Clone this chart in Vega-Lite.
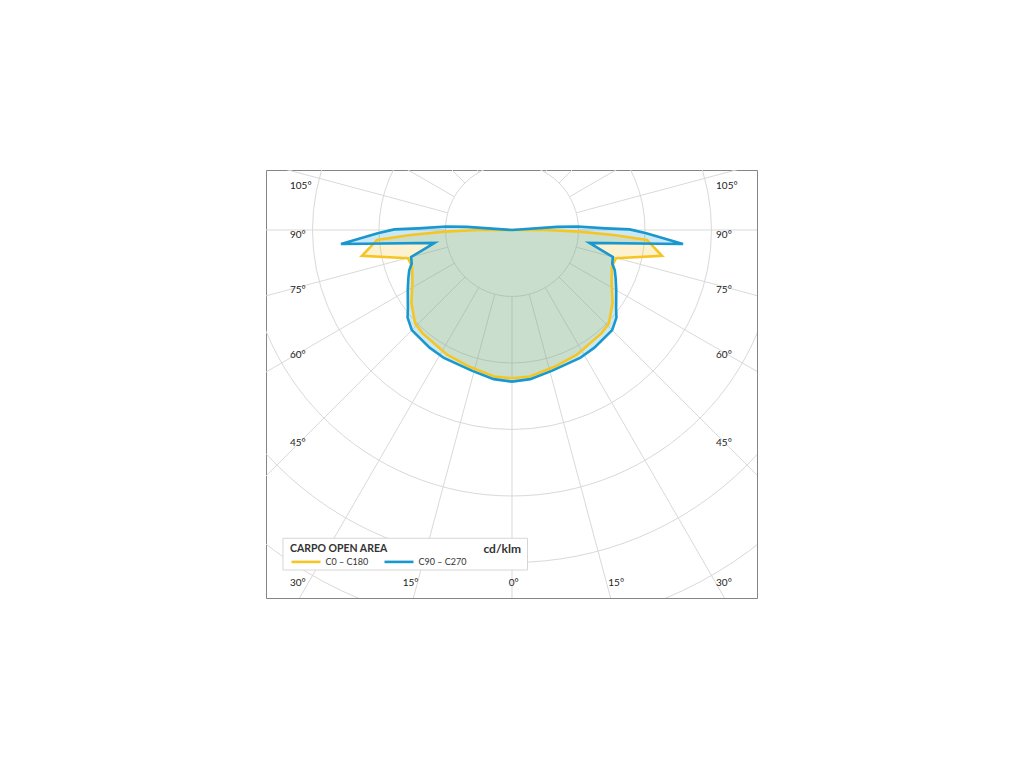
{
  "$schema": "https://vega.github.io/schema/vega-lite/v6.json",
  "width": 491,
  "height": 428,
  "autosize": {"type": "none"},
  "padding": {"left": 266, "top": 170, "right": 20, "bottom": 20},
  "background": "white",
  "config": {"view": {"stroke": "#858585", "strokeWidth": 1}, "font": "Lato"},
  "datasets": {
    "rings": [{"r": 100}, {"r": 200}, {"r": 300}, {"r": 400}, {"r": 500}, {"r": 600}, {"r": 700}],
    "spokes": [{"a": 0}, {"a": 15}, {"a": 30}, {"a": 45}, {"a": 60}, {"a": 75}, {"a": 90}, {"a": 105}, {"a": 120}, {"a": 135}, {"a": 150}, {"a": 165}, {"a": 180}, {"a": 195}, {"a": 210}, {"a": 225}, {"a": 240}, {"a": 255}, {"a": 270}, {"a": 285}, {"a": 300}, {"a": 315}, {"a": 330}, {"a": 345}],
    "curves": [
      {"s": "C0 – C180", "i": 0, "g": -180, "r": 0},
      {"s": "C0 – C180", "i": 1, "g": -90, "r": 50},
      {"s": "C0 – C180", "i": 2, "g": -88.6, "r": 101},
      {"s": "C0 – C180", "i": 3, "g": -87.2, "r": 153},
      {"s": "C0 – C180", "i": 4, "g": -85.8, "r": 203.5},
      {"s": "C0 – C180", "i": 5, "g": -80.2, "r": 229},
      {"s": "C0 – C180", "i": 6, "g": -74.8, "r": 162},
      {"s": "C0 – C180", "i": 7, "g": -70, "r": 160},
      {"s": "C0 – C180", "i": 8, "g": -63, "r": 168},
      {"s": "C0 – C180", "i": 9, "g": -54, "r": 187},
      {"s": "C0 – C180", "i": 10, "g": -46, "r": 202.5},
      {"s": "C0 – C180", "i": 11, "g": -41, "r": 205.5},
      {"s": "C0 – C180", "i": 12, "g": -27.5, "r": 211.5},
      {"s": "C0 – C180", "i": 13, "g": -17, "r": 215.5},
      {"s": "C0 – C180", "i": 14, "g": -7, "r": 222},
      {"s": "C0 – C180", "i": 15, "g": 0, "r": 223},
      {"s": "C0 – C180", "i": 16, "g": 7, "r": 222},
      {"s": "C0 – C180", "i": 17, "g": 17, "r": 215.5},
      {"s": "C0 – C180", "i": 18, "g": 27.5, "r": 211.5},
      {"s": "C0 – C180", "i": 19, "g": 41, "r": 205.5},
      {"s": "C0 – C180", "i": 20, "g": 46, "r": 202.5},
      {"s": "C0 – C180", "i": 21, "g": 54, "r": 187},
      {"s": "C0 – C180", "i": 22, "g": 63, "r": 168},
      {"s": "C0 – C180", "i": 23, "g": 70, "r": 160},
      {"s": "C0 – C180", "i": 24, "g": 74.8, "r": 162},
      {"s": "C0 – C180", "i": 25, "g": 80.2, "r": 229},
      {"s": "C0 – C180", "i": 26, "g": 85.8, "r": 203.5},
      {"s": "C0 – C180", "i": 27, "g": 87.2, "r": 153},
      {"s": "C0 – C180", "i": 28, "g": 88.6, "r": 101},
      {"s": "C0 – C180", "i": 29, "g": 90, "r": 50},
      {"s": "C0 – C180", "i": 30, "g": 180, "r": 0},
      {"s": "C90 – C270", "i": 0, "g": -180, "r": 0},
      {"s": "C90 – C270", "i": 1, "g": -94, "r": 68},
      {"s": "C90 – C270", "i": 2, "g": -93, "r": 99},
      {"s": "C90 – C270", "i": 3, "g": -91, "r": 141},
      {"s": "C90 – C270", "i": 4, "g": -90.3, "r": 177},
      {"s": "C90 – C270", "i": 5, "g": -88.6, "r": 202},
      {"s": "C90 – C270", "i": 6, "g": -85.3, "r": 258},
      {"s": "C90 – C270", "i": 7, "g": -80.5, "r": 118},
      {"s": "C90 – C270", "i": 8, "g": -75, "r": 157},
      {"s": "C90 – C270", "i": 9, "g": -71.5, "r": 159},
      {"s": "C90 – C270", "i": 10, "g": -68.6, "r": 166},
      {"s": "C90 – C270", "i": 11, "g": -65, "r": 172},
      {"s": "C90 – C270", "i": 12, "g": -60, "r": 181},
      {"s": "C90 – C270", "i": 13, "g": -53, "r": 196},
      {"s": "C90 – C270", "i": 14, "g": -50, "r": 205},
      {"s": "C90 – C270", "i": 15, "g": -45, "r": 213},
      {"s": "C90 – C270", "i": 16, "g": -35, "r": 216},
      {"s": "C90 – C270", "i": 17, "g": -28, "r": 218},
      {"s": "C90 – C270", "i": 18, "g": -16, "r": 220},
      {"s": "C90 – C270", "i": 19, "g": -7, "r": 226},
      {"s": "C90 – C270", "i": 20, "g": 0, "r": 228},
      {"s": "C90 – C270", "i": 21, "g": 7, "r": 226},
      {"s": "C90 – C270", "i": 22, "g": 16, "r": 220},
      {"s": "C90 – C270", "i": 23, "g": 28, "r": 218},
      {"s": "C90 – C270", "i": 24, "g": 35, "r": 216},
      {"s": "C90 – C270", "i": 25, "g": 45, "r": 213},
      {"s": "C90 – C270", "i": 26, "g": 50, "r": 205},
      {"s": "C90 – C270", "i": 27, "g": 53, "r": 196},
      {"s": "C90 – C270", "i": 28, "g": 60, "r": 181},
      {"s": "C90 – C270", "i": 29, "g": 65, "r": 172},
      {"s": "C90 – C270", "i": 30, "g": 68.6, "r": 166},
      {"s": "C90 – C270", "i": 31, "g": 71.5, "r": 159},
      {"s": "C90 – C270", "i": 32, "g": 75, "r": 157},
      {"s": "C90 – C270", "i": 33, "g": 80.5, "r": 118},
      {"s": "C90 – C270", "i": 34, "g": 85.3, "r": 258},
      {"s": "C90 – C270", "i": 35, "g": 88.6, "r": 202},
      {"s": "C90 – C270", "i": 36, "g": 90.3, "r": 177},
      {"s": "C90 – C270", "i": 37, "g": 91, "r": 141},
      {"s": "C90 – C270", "i": 38, "g": 93, "r": 99},
      {"s": "C90 – C270", "i": 39, "g": 94, "r": 68},
      {"s": "C90 – C270", "i": 40, "g": 180, "r": 0}
    ],
    "labels": [
      {"t": "105°", "x": -333.8, "y": 66.6},
      {"t": "90°", "x": -333.8, "y": -8},
      {"t": "75°", "x": -333.8, "y": -90.2},
      {"t": "60°", "x": -333.8, "y": -188},
      {"t": "45°", "x": -333.8, "y": -319.8},
      {"t": "30°", "x": -333.8, "y": -531.3},
      {"t": "105°", "x": 306.8, "y": 66.6},
      {"t": "90°", "x": 306.8, "y": -8},
      {"t": "75°", "x": 306.8, "y": -90.2},
      {"t": "60°", "x": 306.8, "y": -188},
      {"t": "45°", "x": 306.8, "y": -319.8},
      {"t": "30°", "x": 306.8, "y": -531.3},
      {"t": "15°", "x": -164.4, "y": -531.3},
      {"t": "0°", "x": -5, "y": -531.3},
      {"t": "15°", "x": 144.8, "y": -531.3}
    ],
    "box": [{"x": -344.4, "x2": 23.3, "y": -463.6, "y2": -511.3}],
    "unit": [{"t": "cd/klm", "x": 13.5, "y": -479.2}]
  },
  "layer": [
    {
      "data": {"name": "rings"},
      "transform": [{"calculate": "0", "as": "x"}, {"calculate": "0", "as": "y"}],
      "mark": {"type": "point", "shape": "circle", "filled": false, "stroke": "#d9d9d9", "strokeWidth": 1, "opacity": 1, "clip": true},
      "encoding": {
        "x": {"field": "x", "type": "quantitative", "scale": {"domain": [-369.9, 368.4], "nice": false, "zero": false}, "axis": null},
        "y": {"field": "y", "type": "quantitative", "scale": {"domain": [-553.4, 90.2], "nice": false, "zero": false}, "axis": null},
        "size": {"field": "r", "type": "quantitative", "scale": {"type": "pow", "exponent": 2, "domain": [0, 700], "range": [0, 866761], "zero": true}, "legend": null}
      }
    },
    {
      "data": {"name": "spokes"},
      "transform": [
        {"calculate": "100*sin(datum.a*PI/180)", "as": "x"},
        {"calculate": "-100*cos(datum.a*PI/180)", "as": "y"},
        {"calculate": "1000*sin(datum.a*PI/180)", "as": "x2"},
        {"calculate": "-1000*cos(datum.a*PI/180)", "as": "y2"}
      ],
      "mark": {"type": "rule", "stroke": "#d9d9d9", "strokeWidth": 1, "clip": true},
      "encoding": {
        "x": {"field": "x", "type": "quantitative", "scale": {"domain": [-369.9, 368.4], "nice": false, "zero": false}, "axis": null},
        "y": {"field": "y", "type": "quantitative", "scale": {"domain": [-553.4, 90.2], "nice": false, "zero": false}, "axis": null},
        "x2": {"field": "x2"},
        "y2": {"field": "y2"}
      }
    },
    {
      "data": {"name": "curves"},
      "transform": [
        {"filter": "datum.s == 'C0 – C180'"},
        {"calculate": "datum.r*sin(datum.g*PI/180)", "as": "x"},
        {"calculate": "-datum.r*cos(datum.g*PI/180)", "as": "y"}
      ],
      "mark": {"type": "line", "fill": "#F5C623", "fillOpacity": 0.22, "strokeOpacity": 0, "clip": true},
      "encoding": {
        "x": {"field": "x", "type": "quantitative", "scale": {"domain": [-369.9, 368.4], "nice": false, "zero": false}, "axis": null},
        "y": {"field": "y", "type": "quantitative", "scale": {"domain": [-553.4, 90.2], "nice": false, "zero": false}, "axis": null},
        "order": {"field": "i", "type": "quantitative"}
      }
    },
    {
      "data": {"name": "curves"},
      "transform": [
        {"filter": "datum.s == 'C90 – C270'"},
        {"calculate": "datum.r*sin(datum.g*PI/180)", "as": "x"},
        {"calculate": "-datum.r*cos(datum.g*PI/180)", "as": "y"}
      ],
      "mark": {"type": "line", "fill": "#1898CF", "fillOpacity": 0.22, "strokeOpacity": 0, "clip": true},
      "encoding": {
        "x": {"field": "x", "type": "quantitative", "scale": {"domain": [-369.9, 368.4], "nice": false, "zero": false}, "axis": null},
        "y": {"field": "y", "type": "quantitative", "scale": {"domain": [-553.4, 90.2], "nice": false, "zero": false}, "axis": null},
        "order": {"field": "i", "type": "quantitative"}
      }
    },
    {
      "data": {"name": "curves"},
      "transform": [
        {"calculate": "datum.r*sin(datum.g*PI/180)", "as": "x"},
        {"calculate": "-datum.r*cos(datum.g*PI/180)", "as": "y"}
      ],
      "mark": {"type": "line", "strokeWidth": 2.6, "strokeJoin": "miter", "strokeMiterLimit": 4, "clip": true},
      "encoding": {
        "x": {"field": "x", "type": "quantitative", "scale": {"domain": [-369.9, 368.4], "nice": false, "zero": false}, "axis": null},
        "y": {"field": "y", "type": "quantitative", "scale": {"domain": [-553.4, 90.2], "nice": false, "zero": false}, "axis": null},
        "color": {
          "field": "s", "type": "nominal",
          "scale": {"domain": ["C0 – C180", "C90 – C270"], "range": ["#F5C623", "#1898CF"]},
          "legend": {
            "orient": "none", "legendX": 24, "legendY": 373.5, "title": "CARPO OPEN AREA",
            "titleFontSize": 10.5, "titleFontWeight": "bold", "titleColor": "#333", "titlePadding": -8.5,
            "titleBaseline": "top", "direction": "horizontal", "columns": 2,
            "symbolType": "stroke", "symbolSize": 841, "symbolStrokeWidth": 2.6,
            "labelFontSize": 9, "labelColor": "#333", "labelOffset": 3.5, "columnPadding": 10, "padding": 0
          }
        },
        "order": {"field": "i", "type": "quantitative"}
      }
    },
    {
      "data": {"name": "box"},
      "mark": {"type": "rect", "fill": "white", "stroke": "#d6d6d6", "strokeWidth": 1},
      "encoding": {
        "x": {"field": "x", "type": "quantitative", "scale": {"domain": [-369.9, 368.4], "nice": false, "zero": false}, "axis": null},
        "y": {"field": "y", "type": "quantitative", "scale": {"domain": [-553.4, 90.2], "nice": false, "zero": false}, "axis": null},
        "x2": {"field": "x2"},
        "y2": {"field": "y2"}
      }
    },
    {
      "data": {"name": "unit"},
      "mark": {"type": "text", "align": "right", "baseline": "middle", "fontSize": 12, "fontWeight": "bold", "color": "#333"},
      "encoding": {
        "x": {"field": "x", "type": "quantitative", "scale": {"domain": [-369.9, 368.4], "nice": false, "zero": false}, "axis": null},
        "y": {"field": "y", "type": "quantitative", "scale": {"domain": [-553.4, 90.2], "nice": false, "zero": false}, "axis": null},
        "text": {"field": "t"}
      }
    },
    {
      "data": {"name": "labels"},
      "mark": {"type": "text", "align": "left", "baseline": "middle", "fontSize": 10, "color": "#222"},
      "encoding": {
        "x": {"field": "x", "type": "quantitative", "scale": {"domain": [-369.9, 368.4], "nice": false, "zero": false}, "axis": null},
        "y": {"field": "y", "type": "quantitative", "scale": {"domain": [-553.4, 90.2], "nice": false, "zero": false}, "axis": null},
        "text": {"field": "t"}
      }
    }
  ]
}
